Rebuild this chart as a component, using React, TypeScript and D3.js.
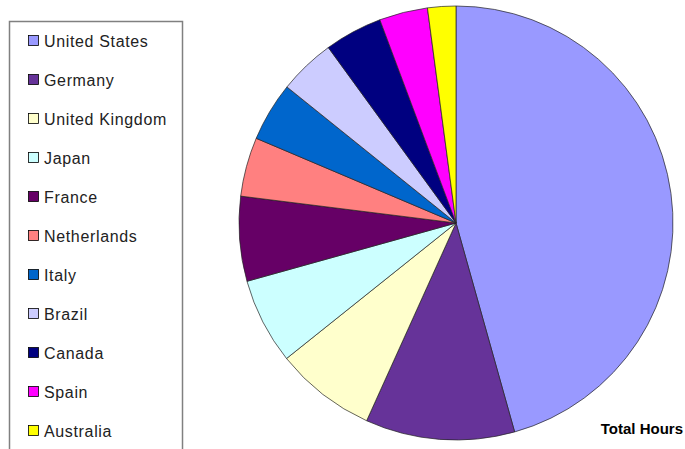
import React from "react";
import * as d3 from "d3";

const countries = [
  "United States", "Germany", "United Kingdom", "Japan", "France",
  "Netherlands", "Italy", "Brazil", "Canada", "Spain", "Australia",
];
const hours = [456, 111, 75, 64, 63, 44, 44, 42, 43, 36, 21];
const colors = [
  "#9999FF", "#663399", "#FFFFCC", "#CCFFFF", "#660066",
  "#FF8080", "#0066CC", "#CCCCFF", "#000080", "#FF00FF", "#FFFF00",
];
const title = "Total Hours";

export default function App() {
  const W = 685, H = 449;
  const cx = 456, cy = 223, r = 217;
  const pie = d3.pie<number>().sort(null).value((d) => d)(hours);
  const arc = d3.arc<d3.PieArcDatum<number>>().innerRadius(0).outerRadius(r);
  return (
    <svg width={W} height={H} style={{ position: "fixed", left: 0, top: 0, background: "#fff" }}
      fontFamily="'Liberation Sans', Arial, sans-serif">
      <rect x={0} y={0} width={W} height={H} fill="#fff" />
      <rect x={9.5} y={21.5} width={173} height={440} fill="#fff" stroke="#808080" strokeWidth={1.5} />
      {countries.map((c, i) => {
        const yc = 41 + i * 39;
        return (
          <g key={c}>
            <rect x={28.5} y={yc - 5.5} width={10} height={10} fill={colors[i]} stroke="#000" strokeWidth={0.8} />
            <text x={44} y={yc + 6} fontSize={16} letterSpacing={0.65} fill="#222">{c}</text>
          </g>
        );
      })}
      <g transform={`translate(${cx},${cy})`}>
        {pie.map((p, i) => (
          <path key={i} d={arc(p) || ""} fill={colors[i]} stroke="#222" strokeWidth={0.7} />
        ))}
      </g>
      <text x={683} y={434} textAnchor="end" fontSize={15} fontWeight="bold" fill="#000">{title}</text>
    </svg>
  );
}
